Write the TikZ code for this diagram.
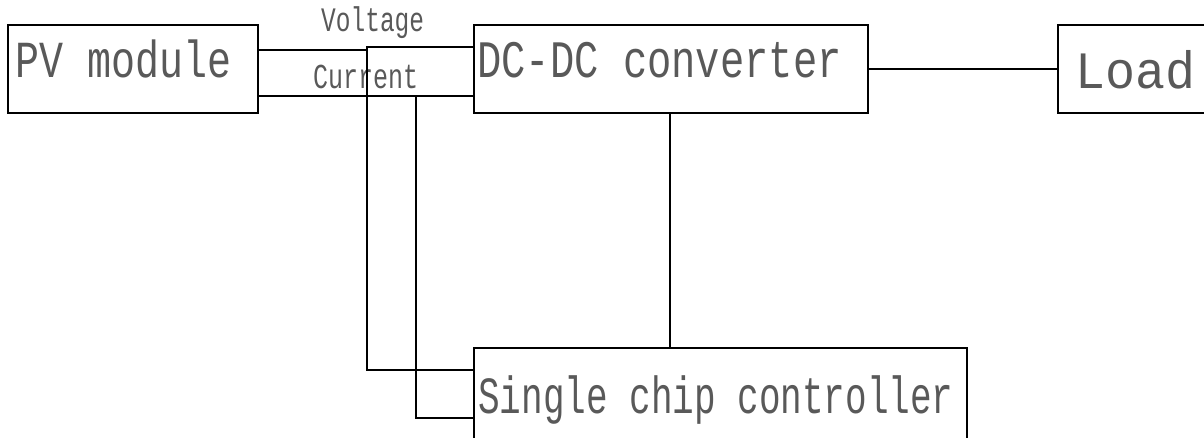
\documentclass[tikz,border=0pt]{standalone}
\usepackage{fontspec}
\setmonofont{Liberation Mono}
\newcommand{\lbltxt}[3]{\scalebox{1}[#2]{\ttfamily\fontsize{#1}{#1}\selectfont #3}}
\begin{document}
\begin{tikzpicture}[x=1pt,y=-1pt,
  box/.style={draw, line width=1.3pt, anchor=north west, inner sep=0pt, outer sep=0pt},
  lbl/.style={anchor=base west, inner sep=0pt, text=black!65},
  wire/.style={line width=1.3pt}]
\useasboundingbox (0,0) rectangle (1204,437);
\clip (0,0) rectangle (1204,437);
% boxes
\node[box, minimum width=250pt, minimum height=88pt] (pv) at (8,25) {};
\node[box, minimum width=394pt, minimum height=88pt] (dc) at (474,25) {};
\node[box, minimum width=180pt, minimum height=88pt] (load) at (1058,25) {};
\node[box, minimum width=493pt, minimum height=120pt] (ctrl) at (474,348) {};
% texts
\node[lbl] (pvt) at (15,77) {\lbltxt{40}{1.3}{PV module}};
\node[lbl] (dct) at (477,77) {\lbltxt{40.5}{1.3}{DC-DC converter}};
\node[lbl] (loadt) at (1075,88) {\lbltxt{50}{1.05}{Load}};
\node[lbl] (ctrlt) at (478,413) {\lbltxt{36}{1.45}{Single chip controller}};
\node[lbl] (volt) at (321,31) {\lbltxt{24.5}{1.4}{Voltage}};
\node[lbl] (curt) at (313,88) {\lbltxt{25}{1.4}{Current}};
% junction coordinates
\coordinate (va) at (367,50);
\coordinate (vtop) at (367,47);
\coordinate (vbot) at (367,370);
\coordinate (ia) at (416,96);
\coordinate (ibot) at (416,418);
% connectors
\draw[wire] (pv.east |- va) -- (va);
\draw[wire] (dc.west |- vtop) -- (vtop) -- (vbot) -- (ctrl.west |- vbot);
\draw[wire] (pv.east |- ia) -- (dc.west |- ia);
\draw[wire] (ia) -- (ibot) -- (ctrl.west |- ibot);
\draw[wire] (dc.east |- 0,69) -- (load.west |- 0,69);
\draw[wire] (dc.south -| 670,0) -- (ctrl.north -| 670,0);
\end{tikzpicture}
\end{document}
